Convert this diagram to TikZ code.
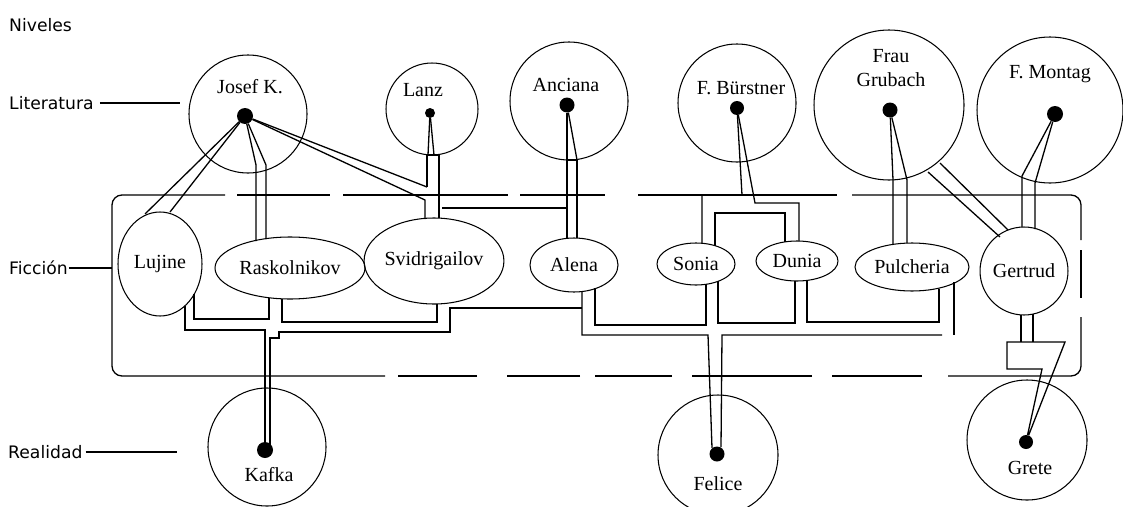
\documentclass[tikz,border=0pt]{standalone}
\usepackage{fontspec}
\setmainfont{Liberation Serif}
\newfontfamily\levelfont{DejaVu Sans}
\usetikzlibrary{shapes.geometric}
\begin{document}
\begin{tikzpicture}[x=1pt,y=-1pt,
  wire/.style={line width=1.3pt, line join=miter},
  ring/.style={circle, draw, line width=1.05pt, inner sep=0pt},
  oval/.style={ellipse, draw, line width=1.05pt, inner sep=0pt, font=\fontsize{20}{24}\selectfont},
  hub/.style={circle, fill, inner sep=0pt},
  persona/.style={font=\fontsize{20}{24}\selectfont, inner sep=0pt, align=center},
  tier/.style={font=\levelfont\fontsize{17.2}{20}\selectfont, inner sep=0pt, anchor=west},
  fence/.style={line width=1.3pt, rounded corners=10pt}]

\useasboundingbox (0,0) rectangle (1123,506);

% level labels
\node[tier] (niv) at (9,25) {Niveles};
\node[tier] (lit) at (9,103) {Literatura};
\node[tier] (fic) at (9,268) {Ficción};
\node[tier] (rea) at (8,452) {Realidad};
\draw[line width=1.1pt] ([xshift=6pt]lit.east) -- (180,103);
\draw[line width=1.1pt] ([xshift=1pt]fic.east) -- (112,268);
\draw[line width=1.1pt] ([xshift=3pt]rea.east) -- (177,452);

% fiction frame, drawn as broken segments
\draw[fence] (225,195) -| (112,376) -- (385,376);
\draw[fence] (237,195) -- (330,195);
\draw[fence] (343,195) -- (508,195);
\draw[fence] (520,195) -- (605,195);
\draw[fence] (638,195) -- (837,195);
\draw[fence] (852,195) -| (1081,240);
\draw[fence] (1081,250) -- (1081,298);
\draw[fence] (1081,317) |- (948,376);
\draw[fence] (922,376) -- (832,376);
\draw[fence] (812,376) -- (692,376);
\draw[fence] (672,376) -- (595,376);
\draw[fence] (580,376) -- (507,376);
\draw[fence] (477,376) -- (398,376);

% literature circles
\node[ring, minimum size=118] (josef) at (248,114) {};
\node[ring, minimum size=92] (lanz) at (432,109) {};
\node[ring, minimum size=118] (anciana) at (569,101) {};
\node[ring, minimum size=118] (burst) at (737,103) {};
\node[ring, minimum size=150] (grub) at (889,105) {};
\node[ring, minimum size=146] (mont) at (1050,110) {};

\node[persona] (josefT) at (250,87) {Josef K.};
\node[persona] (lanzT) at (423,90) {Lanz};
\node[persona] (ancianaT) at (566,85) {Anciana};
\node[persona] (burstT) at (741,88) {F. Bürstner};
\node[persona] (grubT) at (891,68) {Frau\\Grubach};
\node[persona] (montT) at (1050,74) {F. Montag};

% reality circles
\node[ring, minimum size=118] (kafka) at (267,447) {};
\node[ring, minimum size=120] (felice) at (718,455) {};
\node[ring, minimum size=120] (grete) at (1027,440) {};
\node[persona] (kafkaT) at (269,475) {Kafka};
\node[persona] (feliceT) at (718,484) {Felice};
\node[persona] (greteT) at (1030,468) {Grete};

% fiction characters
\node[oval, minimum width=84, minimum height=104] (luj) at (160,264) {Lujine};
\node[oval, minimum width=150, minimum height=62] (rask) at (290,268) {Raskolnikov};
\node[oval, minimum width=116, minimum height=86] (svid) at (434,261) {Svidrigailov};
\node[oval, minimum width=88, minimum height=54] (alena) at (574,265) {Alena};
\node[oval, minimum width=78, minimum height=42] (sonia) at (696,264) {Sonia};
\node[oval, minimum width=82, minimum height=40] (dunia) at (797,261) {Dunia};
\node[oval, minimum width=114, minimum height=48] (pulch) at (912,267) {Pulcheria};
\node[oval, minimum width=74, minimum height=88] (gert) at (1024,271) {Gertrud};

% hubs
\node[hub, minimum size=16] (dJ) at (245,116) {};
\node[hub, minimum size=10] (dL) at (430,113) {};
\node[hub, minimum size=15] (dA) at (567,105) {};
\node[hub, minimum size=14] (dB) at (737,108) {};
\node[hub, minimum size=15] (dG) at (890,110) {};
\node[hub, minimum size=16] (dM) at (1055,114) {};
\node[hub, minimum size=16] (dK) at (265,450) {};
\node[hub, minimum size=15] (dF) at (717,454) {};
\node[hub, minimum size=14] (dR) at (1026,442) {};

% Josef K. to Lujine
\draw[wire] (dJ) -- (145,214);
\draw[wire] (dJ) -- (170,212);
% Josef K. to Raskolnikov
\draw[wire] (dJ) -- (256,165) -- (256,241);
\draw[wire] (dJ) -- (266,165) -- (266,239);
% Josef K. and Lanz to Svidrigailov
\draw[wire] (dJ) -- (427,187);
\draw[wire] (dJ) -- (425,200) -- (425,219);
\draw[wire] (dL) -- (428,155);
\draw[wire] (dL) -- (434,155);
\draw[wire] (427,187) -- (427,155) -- (439,155) -- (439,218);
\draw[wire] (442,208) -- (567,208);
% Anciana to Alena
\draw[wire] (dA) -- (567,160);
\draw[wire] (dA) -- (577,160);
\draw[wire] (567,238) -- (567,160) -- (577,160) -- (577,238);
% Buerstner to Sonia and Dunia
\draw[wire] (dB) -- (742,195) -- (702,195) -- (702,243);
\draw[wire] (dB) -- (755,203) -- (799,203) -- (799,241);
\draw[wire] (715,246) -- (715,213) -- (785,213) -- (785,242);
% Grubach to Pulcheria
\draw[wire] (dG) -- (893,180) -- (893,244);
\draw[wire] (dG) -- (907,180) -- (907,243);
% Grubach to Gertrud
\draw[wire] (928,172) -- (1000,237);
\draw[wire] (940,163) -- (1008,230);
% Montag to Gertrud
\draw[wire] (dM) -- (1022,176) -- (1022,227);
\draw[wire] (dM) -- (1035,183) -- (1035,229);
% Gertrud to Grete
\draw[wire] (1021,315) -- (1021,342);
\draw[wire] (1033,314) -- (1033,342);
\draw[wire] (dR) -- (1042,369) -- (1007,369) -- (1007,342) -- (1065,342) -- (dR);
% fiction to Kafka
\draw[wire] (194,294) -- (194,319) -- (269,319) -- (269,298);
\draw[wire] (282,299) -- (282,322) -- (437,322) -- (437,304);
\draw[wire] (185,306) -- (185,330) -- (265,330) -- (dK);
\draw[wire] (582,308) -- (450,308) -- (450,332) -- (279,332) -- (279,338) -- (270,338) -- (270,446);
% fiction to Felice
\draw[wire] (582,291) -- (582,335) -- (708,335) -- (712,448);
\draw[wire] (595,288) -- (595,325) -- (706,325) -- (706,284);
\draw[wire] (718,281) -- (718,323) -- (795,323) -- (795,281);
\draw[wire] (807,280) -- (807,322) -- (939,322) -- (939,289);
\draw[wire] (954,282) -- (954,335);
\draw[wire] (942,335) -- (722,335) -- (721,447);
\end{tikzpicture}
\end{document}
